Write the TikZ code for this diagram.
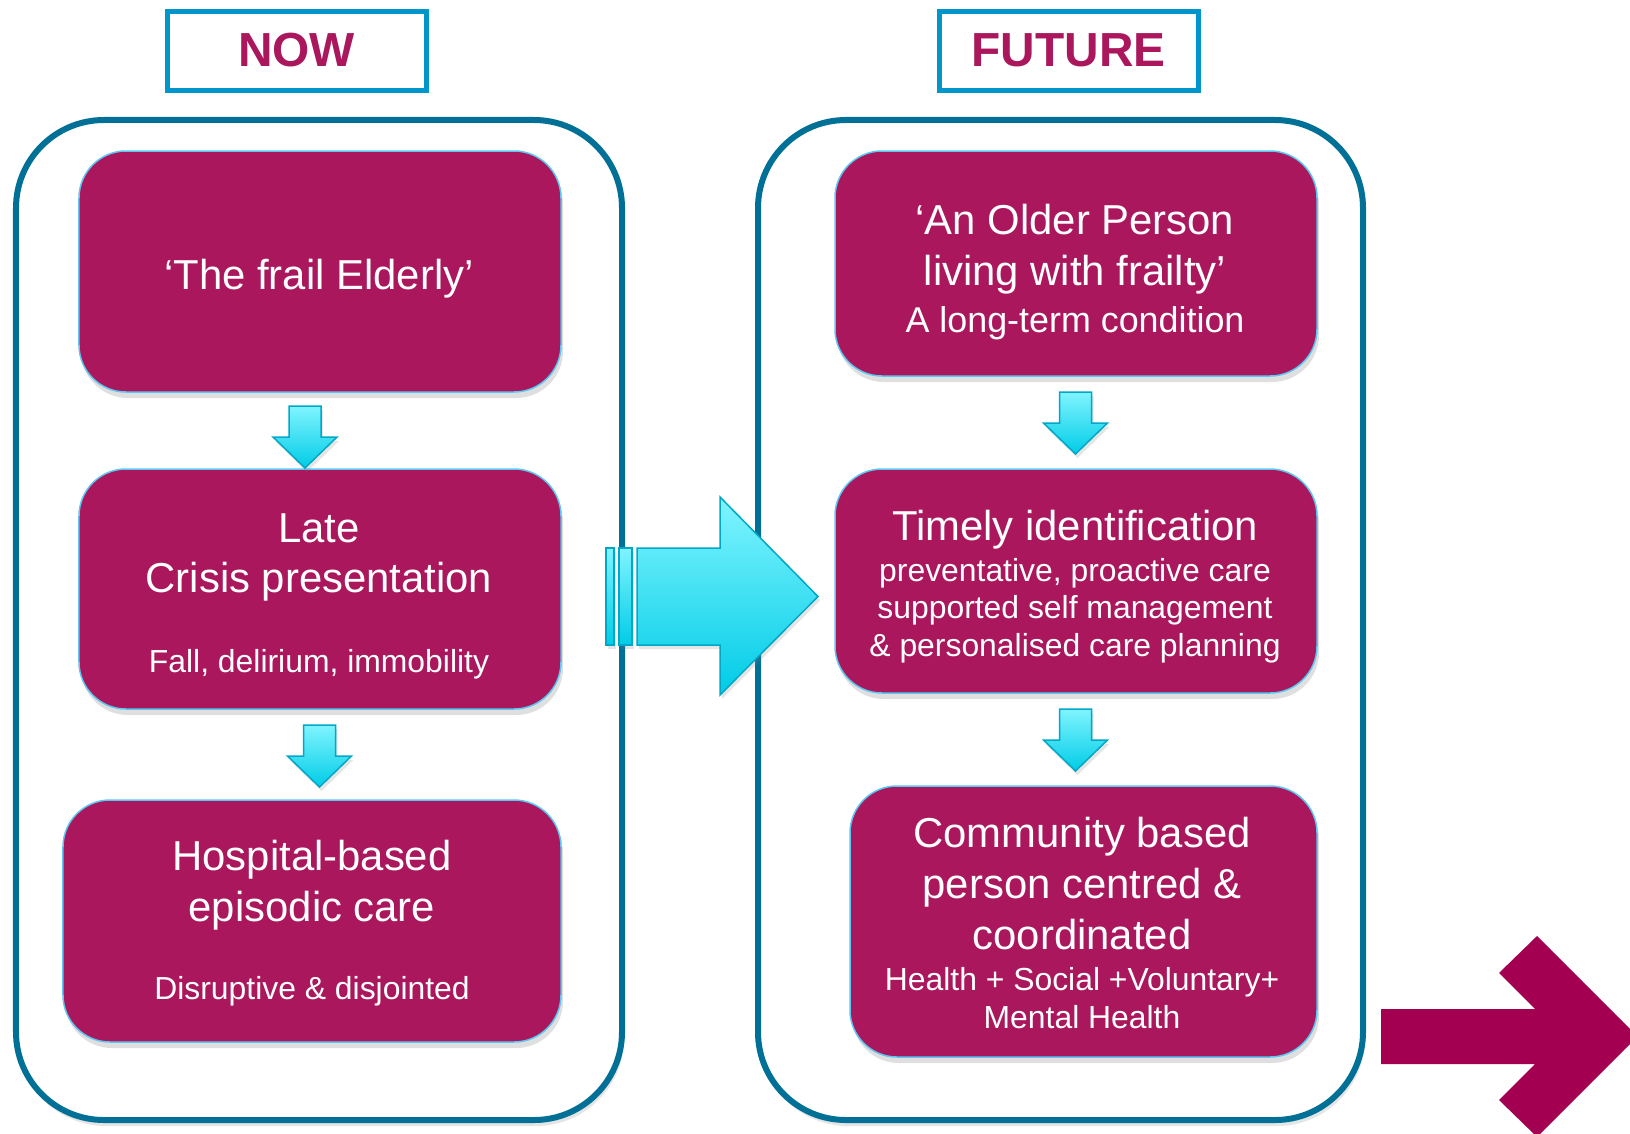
\documentclass[tikz,border=0pt]{standalone}
\usepackage{fontspec}
\setmainfont{Liberation Sans}
\usetikzlibrary{shadows}
\definecolor{boxmag}{RGB}{170,23,93}
\definecolor{arrmag}{RGB}{163,0,82}
\definecolor{hdrblue}{RGB}{0,150,204}
\definecolor{contblue}{RGB}{0,112,150}
\definecolor{boxedge}{RGB}{90,200,240}
\definecolor{cyantop}{RGB}{128,244,255}
\definecolor{cyanbot}{RGB}{0,204,230}
\definecolor{cyanedge}{RGB}{0,168,200}
\tikzset{
  magbox/.style={rectangle, rounded corners=47bp, fill=boxmag, draw=boxedge, line width=1.5bp, inner sep=0,
    drop shadow={shadow xshift=2bp, shadow yshift=-6bp, opacity=.25}},
  hdr/.style={rectangle, draw=hdrblue, line width=5bp, fill=white, text=boxmag,
    font=\fontsize{48}{56}\selectfont\bfseries, minimum width=259bp, minimum height=79bp, inner sep=0},
  cont/.style={rectangle, draw=contblue, line width=6bp, rounded corners=88bp, fill=white, inner sep=0,
    drop shadow={shadow xshift=2bp, shadow yshift=-6bp, opacity=.2}},
  wt/.style={text=white, inner sep=0, anchor=base},
  bigt/.style={font=\fontsize{42}{50}\selectfont},
  midt/.style={font=\fontsize{36}{42}\selectfont},
  smlt/.style={font=\fontsize{32}{37}\selectfont},
  cyanarrow/.style={top color=cyantop, bottom color=cyanbot, draw=cyanedge, line width=1.5bp,
    drop shadow={shadow xshift=2bp, shadow yshift=-4bp, opacity=.2}},
}
\newcommand\dnarrow[2]{%
  \path[cyanarrow] (#1-16,#2) -- (#1+16,#2) -- (#1+16,#2+31) -- (#1+32,#2+31) -- (#1,#2+62)
    -- (#1-32,#2+31) -- (#1-16,#2+31) -- cycle;}
\begin{document}
\begin{tikzpicture}[x=1bp,y=-1bp]
\useasboundingbox (0,0) rectangle (1630,1133);
\fill[white] (0,0) rectangle (1630,1133);

% headers
\node[hdr] (now) at (296.5,50.5) {NOW};
\node[hdr] (future) at (1068.5,50.5) {FUTURE};

% panels
\node[cont, minimum width=606bp, minimum height=1000bp] (nowpanel) at (319,620) {};
\node[cont, minimum width=605bp, minimum height=1000bp] (futpanel) at (1060.5,620) {};

% left boxes
\node[magbox, minimum width=482bp, minimum height=241bp] (l1) at (320,271.5) {};
\node[magbox, minimum width=482bp, minimum height=240bp] (l2) at (320,589) {};
\node[magbox, minimum width=498bp, minimum height=242bp] (l3) at (312,921) {};
% right boxes
\node[magbox, minimum width=482bp, minimum height=225bp] (r1) at (1076,263.5) {};
\node[magbox, minimum width=482bp, minimum height=224bp] (r2) at (1076,581) {};
\node[magbox, minimum width=467bp, minimum height=271bp] (r3) at (1083.5,921.5) {};

% left texts
\node[wt,bigt] (l1a) at (319,289) {‘The frail Elderly’};
\node[wt,bigt] (l2a) at (319,542) {Late};
\node[wt,bigt] (l2b) at (319,592) {Crisis presentation};
\node[wt,smlt] (l2c) at (319,672) {Fall, delirium, immobility};
\node[wt,bigt] (l3a) at (312,870) {Hospital-based};
\node[wt,bigt] (l3b) at (312,921) {episodic care};
\node[wt,smlt] (l3c) at (312,999) {Disruptive \& disjointed};

% right texts
\node[wt,bigt] (r1a) at (1075,234) {‘An Older Person};
\node[wt,bigt] (r1b) at (1075,285) {living with frailty’};
\node[wt,midt] (r1c) at (1075,332) {A long-term condition};
\node[wt,bigt] (r2a) at (1075,540) {Timely identification};
\node[wt,smlt] (r2b) at (1075,581) {preventative, proactive care};
\node[wt,smlt] (r2c) at (1075,618) {supported self management};
\node[wt,smlt] (r2d) at (1075,656) {\& personalised care planning};
\node[wt,bigt] (r3a) at (1082,847) {Community based};
\node[wt,bigt] (r3b) at (1082,898) {person centred \&};
\node[wt,bigt] (r3c) at (1082,949) {coordinated};
\node[wt,smlt] (r3d) at (1082,990) {Health + Social +Voluntary+};
\node[wt,smlt] (r3e) at (1082,1028) {Mental Health};

% small down arrows
\dnarrow{305}{406}
\dnarrow{319.5}{725}
\dnarrow{1075.5}{392}
\dnarrow{1075.5}{709}

% big cyan arrow
\path[cyanarrow] (606,548) rectangle (614,645);
\path[cyanarrow] (619,548) rectangle (632,645);
\path[cyanarrow] (637,548) -- (720,548) -- (720,497) -- (818,596.5) -- (720,695) -- (720,645) -- (637,645) -- cycle;

% magenta arrow bottom right
\fill[arrmag] (1381,1009) -- (1535,1009) -- (1499,973) -- (1537,936) -- (1637.5,1036.5)
  -- (1537,1137) -- (1499,1100) -- (1535,1064) -- (1381,1064) -- cycle;
\end{tikzpicture}
\end{document}
